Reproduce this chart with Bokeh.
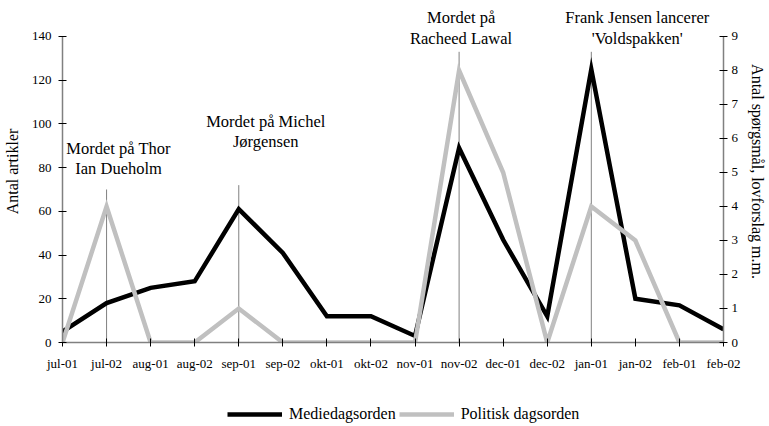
from bokeh.plotting import figure
from bokeh.models import Range1d, LinearAxis, FixedTicker, Legend, LegendItem, Label
from bokeh.layouts import column
from bokeh.embed import file_html
from bokeh.resources import INLINE

# ---------------- data ----------------
months = ["jul-01", "jul-02", "aug-01", "aug-02", "sep-01", "sep-02", "okt-01", "okt-02",
          "nov-01", "nov-02", "dec-01", "dec-02", "jan-01", "jan-02", "feb-01", "feb-02"]
medie = [5, 18, 25, 28, 61, 41, 12, 12, 3, 89, 47, 12, 125, 20, 17, 6]
politisk = [0, 4, 0, 0, 1, 0, 0, 0, 0, 8, 5, 0, 4, 3, 0, 0]
left_ticks = [0, 20, 40, 60, 80, 100, 120, 140]
right_ticks = [0, 1, 2, 3, 4, 5, 6, 7, 8, 9]

event_months = ["jul-02", "sep-01", "nov-02", "jan-01"]
event_line_top = [70, 72, 133, 133]
event_line1 = ["Mordet på Thor", "Mordet på Michel", "Mordet på", "Frank Jensen lancerer"]
event_line2 = ["Ian Dueholm", "Jørgensen", "Racheed Lawal", "'Voldspakken'"]

series_names = ["Mediedagsorden", "Politisk dagsorden"]

# ---------------- layout / style ----------------
FONT = "Liberation Serif"
LEFT_MAX = 140
RIGHT_MAX = 9
Y_TOP = 156.47
x = list(range(len(months)))

p = figure(width=769, height=380, output_backend="svg", toolbar_location=None,
           x_range=Range1d(0, len(months) - 1), y_range=Range1d(0, Y_TOP),
           min_border_left=61, min_border_right=45, min_border_top=0, min_border_bottom=38)
p.outline_line_color = None
p.xgrid.visible = False
p.ygrid.visible = False

p.extra_y_ranges = {"pol": Range1d(0, Y_TOP * RIGHT_MAX / LEFT_MAX)}

# event vertical lines
ex = [months.index(m) for m in event_months]
p.segment(x0=ex, y0=[0] * len(ex), x1=ex, y1=event_line_top, line_color="#808080", line_width=1)

LW = 4.5
p.line(x, medie, line_color="black", line_width=LW, line_join="miter")
p.line(x, politisk, line_color="#c0c0c0", line_width=LW, line_join="miter", y_range_name="pol")

# axes
def style_axis(ax):
    ax.axis_line_color = "#808080"
    ax.axis_line_width = 1.5
    ax.major_tick_line_color = "black"
    ax.major_tick_in = 4
    ax.major_tick_out = 4
    ax.minor_tick_line_color = None
    ax.major_label_text_font = FONT
    ax.major_label_text_font_size = "13px"
    ax.major_label_text_color = "black"
    ax.axis_label_text_font = FONT
    ax.axis_label_text_font_size = "16px"
    ax.axis_label_text_font_style = "normal"
    ax.axis_label_text_color = "black"

xa = p.xaxis[0]
style_axis(xa)
xa.ticker = FixedTicker(ticks=x)
xa.major_label_overrides = {i: m for i, m in zip(x, months)}
xa.major_label_standoff = 9

ya = p.yaxis[0]
style_axis(ya)
ya.ticker = FixedTicker(ticks=left_ticks)
ya.bounds = (0, LEFT_MAX)
ya.axis_label = "Antal artikler"
ya.major_label_standoff = 7
ya.axis_label_standoff = 8

ra = LinearAxis(y_range_name="pol", ticker=FixedTicker(ticks=right_ticks),
                axis_label="Antal spørgsmål, lovforslag m.m.")
style_axis(ra)
ra.bounds = (0, RIGHT_MAX)
ra.major_label_standoff = 4
ra.axis_label_standoff = 8
p.add_layout(ra, "right")

# event texts
text_offsets = [12, 27, 2, 46]
y1 = [88.8, 101.1, 148.7, 148.7]
y2 = [79.6, 92.0, 139.1, 139.1]
for i, m in enumerate(event_months):
    for txt, yy in ((event_line1[i], y1[i]), (event_line2[i], y2[i])):
        p.add_layout(Label(x=months.index(m), y=yy, text=txt, x_offset=text_offsets[i],
                           text_align="center", text_baseline="middle",
                           text_font=FONT, text_font_size="16.5px", text_color="black"))

# legend strip below the chart (same series, drawn outside this strip's visible range)
p2 = figure(width=769, height=46, output_backend="svg", toolbar_location=None,
            x_axis_type=None, y_axis_type=None,
            x_range=Range1d(100, 101), y_range=Range1d(1000, 1001), min_border=0)
p2.outline_line_color = None
p2.xgrid.visible = False
p2.ygrid.visible = False
lr1 = p2.line(x, medie, line_color="black", line_width=LW)
lr2 = p2.line(x, politisk, line_color="#c0c0c0", line_width=LW)
legend = Legend(items=[LegendItem(label=series_names[0], renderers=[lr1]),
                       LegendItem(label=series_names[1], renderers=[lr2])],
                orientation="horizontal", location=(165, 2),
                label_text_font=FONT, label_text_font_size="16px", label_text_color="black",
                glyph_width=55, glyph_height=20, label_standoff=7, spacing=3,
                border_line_color=None, background_fill_alpha=0, margin=0, padding=4)
p2.add_layout(legend, "center")

layout = column(p, p2, spacing=0)
open("out.html", "w").write(file_html(layout, INLINE))
